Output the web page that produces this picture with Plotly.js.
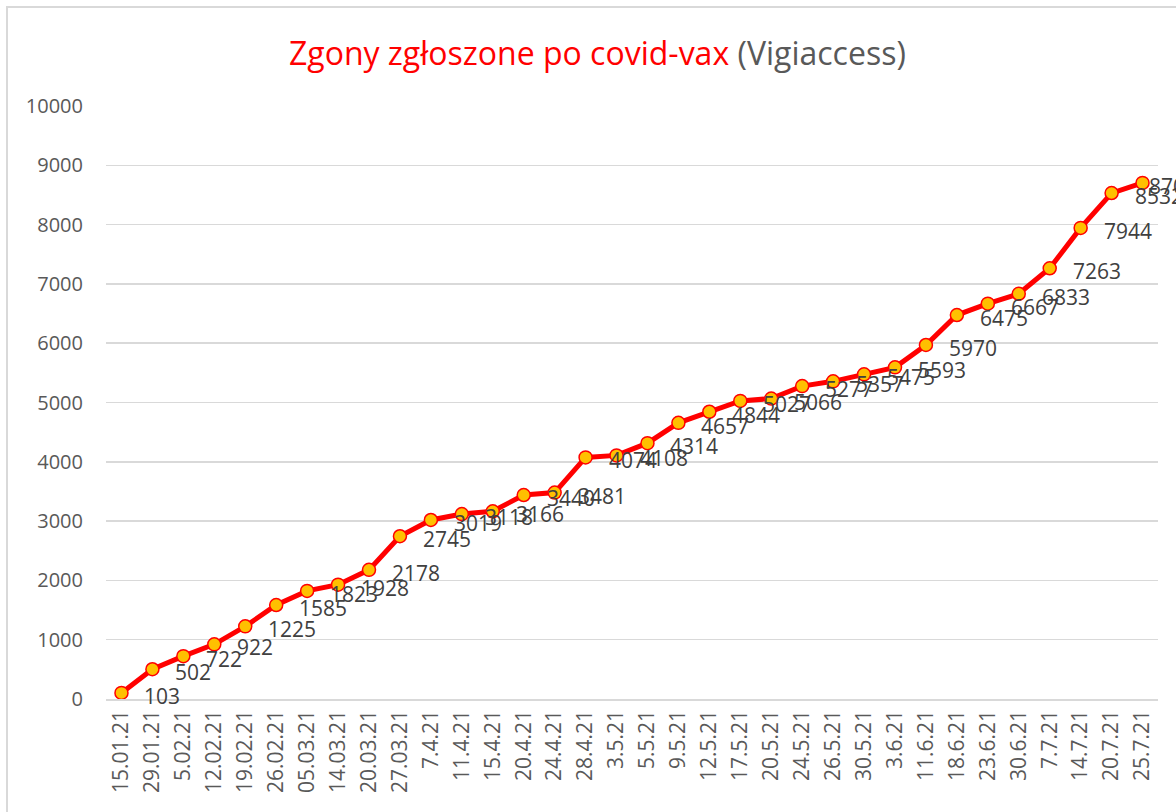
<!DOCTYPE html>
<html>
<head>
<meta charset="utf-8">
<script src="https://cdn.plot.ly/plotly-3.0.1.min.js"></script>
<style>
  html, body { margin: 0; padding: 0; background: #ffffff; overflow: hidden; }
  #chart { width: 1176px; height: 812px; position: absolute; left: 0; top: 0; }
  #frame { position: absolute; left: 6px; top: 6px; width: 1200px; height: 900px;
           border-left: 2px solid #d9d9d9; border-top: 2px solid #d9d9d9; pointer-events: none; }
</style>
</head>
<body>
<div id="chart"></div>
<div id="frame"></div>
<script>
// Data
const dates = ["15.01.21","29.01.21","5.02.21","12.02.21","19.02.21","26.02.21","05.03.21","14.03.21",
  "20.03.21","27.03.21","7.4.21","11.4.21","15.4.21","20.4.21","24.4.21","28.4.21","3.5.21","5.5.21",
  "9.5.21","12.5.21","17.5.21","20.5.21","24.5.21","26.5.21","30.5.21","3.6.21","11.6.21","18.6.21",
  "23.6.21","30.6.21","7.7.21","14.7.21","20.7.21","25.7.21"];
const deaths = [103, 502, 722, 922, 1225, 1585, 1823, 1928, 2178, 2745, 3019, 3118, 3166, 3440, 3481,
  4074, 4108, 4314, 4657, 4844, 5027, 5066, 5277, 5357, 5475, 5593, 5970, 6475, 6667, 6833, 7263,
  7944, 8532, 8703];
const yTicks = [0,1000,2000,3000,4000,5000,6000,7000,8000,9000,10000];

const FONT = "'Open Sans', 'Noto Sans', sans-serif";

const trace = {
  type: 'scatter',
  mode: 'lines+markers',
  x: dates,
  y: deaths,
  line: { color: '#FF0000', width: 5 },
  marker: { color: '#FFC000', size: 13, line: { color: '#FF0000', width: 1.5 } },
  hoverinfo: 'x+y',
  cliponaxis: false
};

// Data labels to the right of each point; the last one is pushed left to stay near the edge
const lastIdx = dates.length - 1;
const annotations = dates.map((d, i) => ({
  x: d, y: deaths[i], xref: 'x', yref: 'y',
  text: String(deaths[i]),
  showarrow: false,
  xanchor: 'left', yanchor: 'middle',
  xshift: i === lastIdx ? 4 : 21, yshift: -3,
  font: { family: FONT, size: 21, color: '#404040' }
}));

const layout = {
  width: 1176, height: 812,
  margin: { l: 106, r: 18, t: 106, b: 113 },
  paper_bgcolor: 'rgba(0,0,0,0)',
  plot_bgcolor: '#ffffff',
  showlegend: false,
  title: {
    text: '<span style="color:#FF0000">Zgony zgłoszone po covid-vax</span> <span style="color:#595959">(Vigiaccess)</span>',
    x: 0.508, xref: 'container', xanchor: 'center',
    y: 0.934, yref: 'container', yanchor: 'middle',
    font: { family: FONT, size: 32, color: '#FF0000' }
  },
  xaxis: {
    type: 'category',
    range: [-0.5, dates.length - 0.5],
    tickangle: -90,
    tickfont: { family: FONT, size: 21, color: '#595959' },
    showgrid: false,
    showline: true, linecolor: '#d9d9d9', linewidth: 1.5,
    ticks: '', ticklabelstandoff: 1,
    fixedrange: true
  },
  yaxis: {
    range: [0, 10000],
    tickvals: yTicks,
    ticktext: yTicks.map(String),
    tickfont: { family: FONT, size: 20, color: '#595959' },
    showgrid: true, gridcolor: '#d9d9d9', gridwidth: 1.5,
    zeroline: false,
    ticks: '', ticklabelstandoff: 22,
    fixedrange: true
  },
  annotations: annotations
};

Plotly.newPlot('chart', [trace], layout, { displayModeBar: false, staticPlot: true });
</script>
</body>
</html>
